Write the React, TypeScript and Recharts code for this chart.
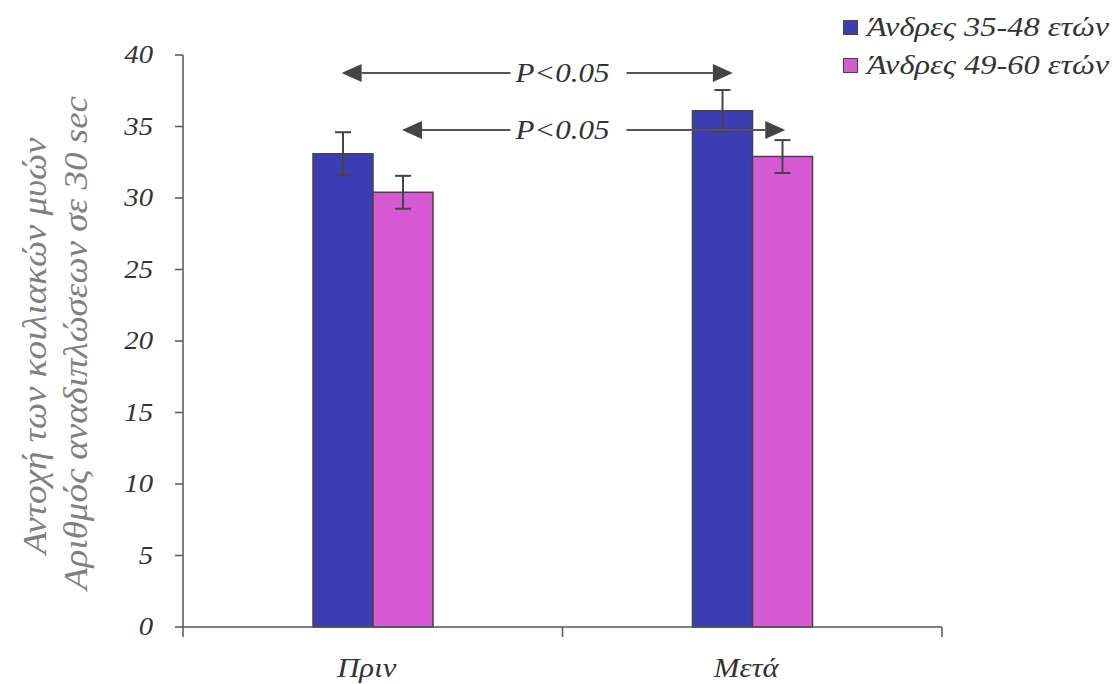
import { BarChart, Bar, XAxis, YAxis, ErrorBar, Legend, ReferenceLine } from "recharts";

const categories = ["Πριν", "Μετά"];
const categoryPos = [0.5, 1.5];
const youngValues = [33.1, 36.1];
const youngErrors = [1.5, 1.45];
const olderValues = [30.4, 32.9];
const olderErrors = [1.15, 1.15];
const yTicks = [0, 5, 10, 15, 20, 25, 30, 35, 40];
const seriesNames = ["Άνδρες 35-48 ετών", "Άνδρες 49-60 ετών"];
const yLabelLines = ["Αντοχή των κοιλιακών μυών", "Αριθμός αναδιπλώσεων σε 30 sec"];
// significance arrows, in (category-position, value) units
const arrows = [
  { from: 0.418, to: 1.449, y: 38.74, labelAt: 1, label: "P<0.05" },
  { from: 0.577, to: 1.587, y: 34.76, labelAt: 1, label: "P<0.05" },
];

const BLUE = "#3d3db3";
const PINK = "#d75ad5";
const INK = "#333";
const AXIS = "#555";
const FONT = "Liberation Serif, Times New Roman, serif";

const data = categories.map((name, i) => ({
  name,
  pos: categoryPos[i],
  young: youngValues[i],
  youngErr: youngErrors[i],
  older: olderValues[i],
  olderErr: olderErrors[i],
}));

const YTick = (props: any) => {
  const { x, y, payload } = props;
  return (
    <text
      transform={`translate(${x - 1},${y}) scale(1.15,1)`}
      textAnchor="end"
      dominantBaseline="central"
      fontFamily={FONT}
      fontSize={25}
      fontStyle="italic"
      fill={INK}
    >
      {payload.value}
    </text>
  );
};

const XTick = (props: any) => {
  const { x, y, payload } = props;
  const v = payload.value;
  if (Number.isInteger(v)) {
    return <line x1={x} y1={y} x2={x} y2={y + 10} stroke={AXIS} strokeWidth={1.5} />;
  }
  return (
    <text
      transform={`translate(${x - 6},${y + 50}) scale(1.1,1)`}
      textAnchor="middle"
      fontFamily={FONT}
      fontSize={28}
      fontStyle="italic"
      fill={INK}
    >
      {categories[Math.floor(v)]}
    </text>
  );
};

const YLabel = () => (
  <g fill="#808080" fontSize={34} fontStyle="italic" fontFamily={FONT}>
    <text transform="translate(35,346) rotate(-90) scale(1.09,1)" textAnchor="middle" dominantBaseline="central">
      {yLabelLines[0]}
    </text>
    <text transform="translate(76,343) rotate(-90) scale(1.09,1)" textAnchor="middle" dominantBaseline="central">
      {yLabelLines[1]}
    </text>
  </g>
);

const makeArrow = (a: (typeof arrows)[number]) => (props: any) => {
  const { x1, y1, x2 } = props;
  const y = y1;
  const lx = x1 + ((a.labelAt - a.from) / (a.to - a.from)) * (x2 - x1);
  const head = 20;
  const half = 9;
  return (
    <g>
      <line x1={x1 + head} y1={y} x2={lx - 52} y2={y} stroke={AXIS} strokeWidth={2} />
      <line x1={lx + 64} y1={y} x2={x2 - head} y2={y} stroke={AXIS} strokeWidth={2} />
      <polygon points={`${x1},${y} ${x1 + head},${y - half} ${x1 + head},${y + half}`} fill="#444" />
      <polygon points={`${x2},${y} ${x2 - head},${y - half} ${x2 - head},${y + half}`} fill="#444" />
      <text
        transform={`translate(${lx},${y}) scale(1.15,1)`}
        textAnchor="middle"
        dominantBaseline="central"
        fontFamily={FONT}
        fontSize={27}
        fontStyle="italic"
        fill={INK}
      >
        {a.label}
      </text>
    </g>
  );
};

const LegendBox = () => (
  <div style={{ fontFamily: FONT }}>
    {seriesNames.map((n, i) => (
      <div key={n} style={{ display: "flex", alignItems: "center", height: 38 }}>
        <span
          style={{
            width: 13,
            height: 13,
            background: i === 0 ? BLUE : PINK,
            border: "1.5px solid #444",
            marginRight: 9,
            flex: "none",
          }}
        />
        <span
          style={{
            fontSize: 27,
            fontStyle: "italic",
            color: INK,
            whiteSpace: "nowrap",
            display: "inline-block",
            transform: "scaleX(1.2)",
            transformOrigin: "left center",
          }}
        >
          {n}
        </span>
      </div>
    ))}
  </div>
);

export default function App() {
  return (
    <div
      style={{
        position: "absolute",
        left: 0,
        top: 0,
        width: 1115,
        height: 684,
        background: "#fff",
        fontFamily: FONT,
      }}
    >
      <BarChart
        width={1115}
        height={684}
        data={data}
        margin={{ top: 55, right: 173, bottom: 0, left: 0 }}
        barGap={0}
        barCategoryGap="34%"
      >
        <XAxis xAxisId="cat" dataKey="name" hide height={0} />
        <XAxis
          xAxisId="num"
          dataKey="pos"
          type="number"
          domain={[0, 2]}
          ticks={[0, 0.5, 1, 1.5, 2]}
          height={57}
          tickLine={false}
          tickSize={0}
          tickMargin={0}
          stroke={AXIS}
          strokeWidth={1.5}
          tick={<XTick />}
          interval={0}
          allowDataOverflow
        />
        <YAxis
          width={183}
          domain={[0, 40]}
          ticks={yTicks}
          interval={0}
          stroke={AXIS}
          strokeWidth={1.5}
          tickSize={8}
          tickMargin={21}
          tick={<YTick />}
          label={{ content: <YLabel /> }}
        />
        <Legend
          layout="horizontal"
          align="center"
          verticalAlign="middle"
          wrapperStyle={{ top: 8, left: 843, width: 272 }}
          content={<LegendBox />}
        />
        <Bar xAxisId="cat" dataKey="young" fill={BLUE} stroke="#444" strokeWidth={1.5} barSize={60} isAnimationActive={false}>
          <ErrorBar dataKey="youngErr" width={8} stroke="#444" strokeWidth={2} />
        </Bar>
        <Bar xAxisId="cat" dataKey="older" fill={PINK} stroke="#444" strokeWidth={1.5} barSize={60} isAnimationActive={false}>
          <ErrorBar dataKey="olderErr" width={8} stroke="#444" strokeWidth={2} />
        </Bar>
        {arrows.map((a, i) => (
          <ReferenceLine
            key={i}
            xAxisId="num"
            segment={[
              { x: a.from, y: a.y },
              { x: a.to, y: a.y },
            ]}
            ifOverflow="visible"
            shape={makeArrow(a)}
          />
        ))}
      </BarChart>
    </div>
  );
}
